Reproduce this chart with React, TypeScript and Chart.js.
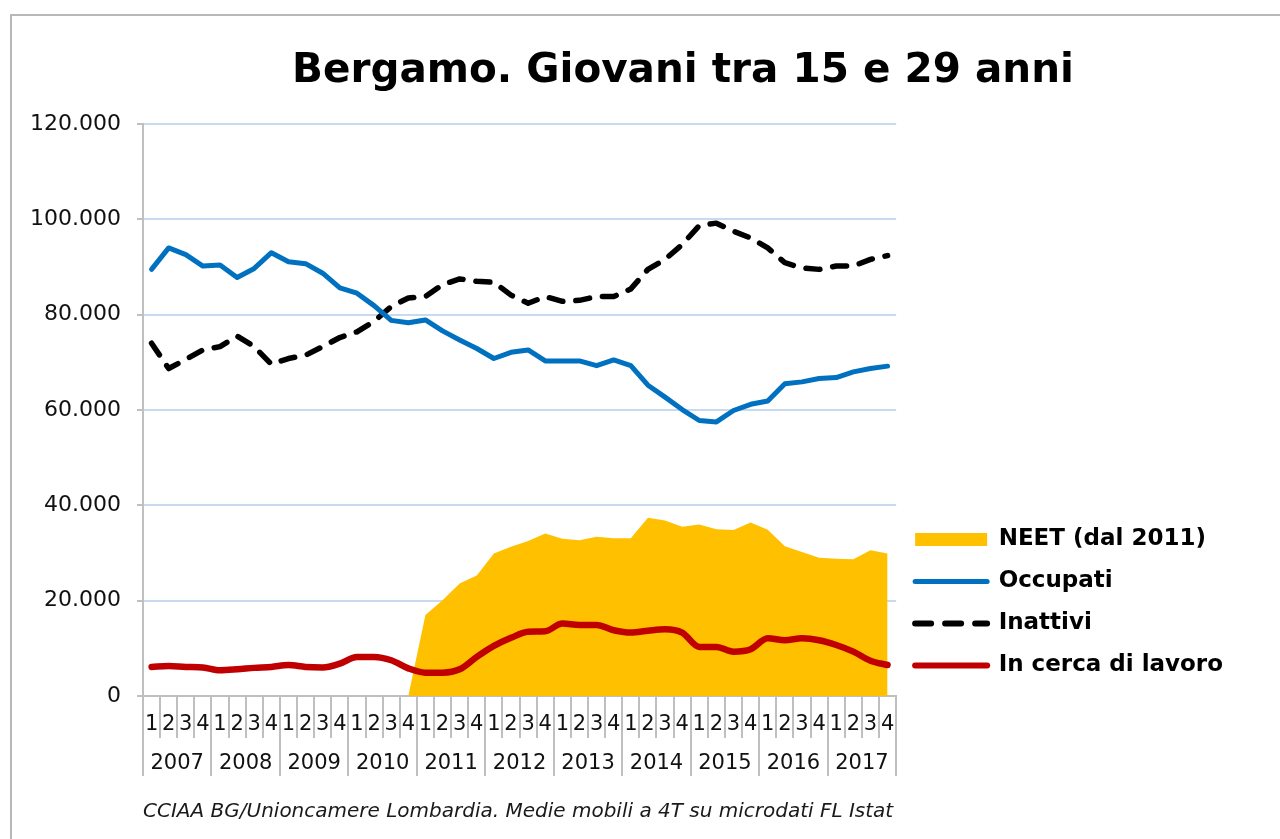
import React, { useEffect, useRef } from 'react';
import { Chart, registerables } from 'chart.js';

Chart.register(...registerables);

const years = ['2007', '2008', '2009', '2010', '2011', '2012', '2013', '2014', '2015', '2016', '2017'];
const quarterLabels = ['1', '2', '3', '4'];

const occupati = [
  89500, 94000, 92600, 90200, 90400, 87800, 89700, 93000, 91100, 90700,
  88700, 85600, 84500, 81900, 78800, 78300, 78900, 76600, 74700, 72900,
  70800, 72100, 72600, 70300, 70300, 70300, 69300, 70500, 69300, 65200,
  62700, 60100, 57800, 57500, 59900, 61200, 61900, 65500, 65900, 66600,
  66800, 68000, 68700, 69200,
];

const inattivi = [
  74000, 68700, 70600, 72600, 73300, 75500, 73300, 69600, 70800, 71500,
  73300, 75200, 76400, 78600, 81700, 83500, 83800, 86300, 87500, 87000,
  86800, 84100, 82400, 83800, 82800, 83000, 83800, 83800, 85400, 89500,
  91600, 94700, 98700, 99200, 97500, 96100, 94000, 90900, 89800, 89500,
  90200, 90200, 91600, 92400,
];

const inCerca = [
  6100, 6300, 6100, 6000, 5400, 5600, 5900, 6100, 6500, 6100,
  6000, 6800, 8200, 8200, 7500, 5800, 4900, 4900, 5600, 8200,
  10500, 12200, 13500, 13600, 15200, 14900, 14900, 13800, 13300, 13700,
  14000, 13300, 10300, 10300, 9300, 9800, 12100, 11700, 12100, 11700,
  10700, 9300, 7400, 6500,
];

const neet = [
  null, null, null, null, null, null, null, null, null, null,
  null, null, null, null, null, 0, 17000, 20100, 23600, 25300,
  29900, 31300, 32500, 34100, 33000, 32700, 33400, 33100, 33100, 37400,
  36800, 35500, 36000, 35000, 34800, 36400, 34900, 31400, 30200, 29000,
  28800, 28700, 30600, 29900,
];

const yTicks = [0, 20000, 40000, 60000, 80000, 100000, 120000];

const TITLE = 'Bergamo. Giovani tra 15 e 29 anni';
const SOURCE = 'CCIAA BG/Unioncamere Lombardia. Medie mobili a 4T su microdati FL Istat';
const NAME_NEET = 'NEET (dal 2011)';
const NAME_OCC = 'Occupati';
const NAME_INA = 'Inattivi';
const NAME_CER = 'In cerca di lavoro';

const C_NEET = '#ffc000';
const C_OCC = '#0070c0';
const C_INA = '#000000';
const C_CER = '#c00000';
const FONT = "'DejaVu Sans', Verdana, sans-serif";
const TITLE_CENTER_X = 683;

const categories = years.flatMap((y) => quarterLabels.map((q) => `${q}`));

function fmt(v: number): string {
  return String(Math.round(v)).replace(/\B(?=(\d{3})+(?!\d))/g, '.');
}

const titleCenterPlugin = {
  id: 'titleCenter',
  afterLayout(chart: any) {
    const t = chart.titleBlock;
    if (!t) return;
    const half = 450;
    t.left = TITLE_CENTER_X - half;
    t.right = TITLE_CENTER_X + half;
    t.width = half * 2;
  },
};

export default function App() {
  const ref = useRef<HTMLCanvasElement | null>(null);

  useEffect(() => {
    if (!ref.current) return;
    const chart = new Chart(ref.current, {
      type: 'line',
      plugins: [titleCenterPlugin],
      data: {
        labels: categories,
        datasets: [
          {
            label: NAME_NEET,
            data: neet,
            backgroundColor: C_NEET,
            borderColor: C_NEET,
            borderWidth: 0,
            fill: 'origin',
            pointRadius: 0,
            tension: 0,
            order: 10,
          },
          {
            label: NAME_OCC,
            data: occupati,
            borderColor: C_OCC,
            backgroundColor: C_OCC,
            borderWidth: 5,
            borderCapStyle: 'round',
            borderJoinStyle: 'round',
            fill: false,
            pointRadius: 0,
            tension: 0,
            order: 1,
          },
          {
            label: NAME_INA,
            data: inattivi,
            borderColor: C_INA,
            backgroundColor: C_INA,
            borderWidth: 5.5,
            borderDash: [14, 13],
            borderCapStyle: 'round',
            borderJoinStyle: 'round',
            fill: false,
            pointRadius: 0,
            tension: 0,
            order: 2,
          },
          {
            label: NAME_CER,
            data: inCerca,
            borderColor: C_CER,
            backgroundColor: C_CER,
            borderWidth: 6.5,
            borderCapStyle: 'round',
            borderJoinStyle: 'round',
            fill: false,
            pointRadius: 0,
            cubicInterpolationMode: 'monotone',
            order: 3,
          },
        ],
      },
      options: {
        responsive: false,
        animation: false,
        layout: { padding: { left: -200, right: 47, top: 14, bottom: 0 } },
        scales: {
          x: {
            type: 'category',
            position: 'bottom',
            weight: 0,
            offset: true,
            grid: {
              display: true,
              offset: true,
              drawOnChartArea: false,
              drawTicks: true,
              tickLength: 42,
              color: '#bfbfbf',
              lineWidth: 2,
            },
            border: { display: true, color: '#bfbfbf', width: 2 },
            ticks: {
              autoSkip: false,
              maxRotation: 0,
              minRotation: 0,
              padding: -25.6,
              color: '#111',
              font: { family: FONT, size: 21 },
            },
            afterFit: (s: any) => {
              s.height = 42;
            },
          },
          x2: {
            type: 'category',
            position: 'bottom',
            weight: 1,
            labels: years,
            offset: true,
            grid: {
              display: true,
              offset: true,
              drawOnChartArea: false,
              drawTicks: true,
              tickLength: 38,
              color: '#bfbfbf',
              lineWidth: 2,
            },
            border: { display: false },
            ticks: {
              autoSkip: false,
              maxRotation: 0,
              minRotation: 0,
              padding: -24.6,
              color: '#111',
              font: { family: FONT, size: 21 },
            },
            afterFit: (s: any) => {
              s.height = 54;
            },
          },
          y: {
            min: 0,
            max: 120000,
            afterBuildTicks: (s: any) => {
              s.ticks = yTicks.map((v) => ({ value: v }));
            },
            ticks: {
              callback: (v: any) => fmt(Number(v)),
              padding: 16,
              color: '#111',
              font: { family: FONT, size: 22 },
            },
            grid: {
              color: '#c9daf0',
              lineWidth: 2,
              tickLength: 6,
              tickColor: '#bfbfbf',
              drawTicks: true,
            },
            border: { display: true, color: '#bfbfbf', width: 2 },
            afterFit: (s: any) => {
              s.width = 343;
            },
          },
        },
        plugins: {
          tooltip: { enabled: false },
          title: {
            display: true,
            text: TITLE,
            color: '#000',
            font: { family: FONT, size: 40.5, weight: 'bold' },
            padding: { top: 33, bottom: 28.4 },
          },
          subtitle: {
            display: true,
            fullSize: false,
            text: SOURCE,
            position: 'bottom',
            align: 'start',
            color: '#1a1a1a',
            font: { family: FONT, size: 20, style: 'italic' },
            padding: { top: 8, bottom: 15 },
          },
          legend: {
            display: true,
            position: 'right',
            align: 'end',
            fullSize: false,
            labels: {
              usePointStyle: true,
              pointStyleWidth: 72,
              boxHeight: 23,
              padding: 19,
              color: '#000',
              font: { family: FONT, size: 23, weight: 'bold' },
              generateLabels: () => [
                {
                  text: NAME_NEET,
                  fillStyle: C_NEET,
                  strokeStyle: C_NEET,
                  lineWidth: 13,
                  lineCap: 'butt',
                  lineDash: [],
                  pointStyle: 'line',
                  fontColor: '#000',
                  hidden: false,
                  datasetIndex: 0,
                },
                {
                  text: NAME_OCC,
                  fillStyle: C_OCC,
                  strokeStyle: C_OCC,
                  lineWidth: 5,
                  lineCap: 'round',
                  lineDash: [],
                  pointStyle: 'line',
                  fontColor: '#000',
                  hidden: false,
                  datasetIndex: 1,
                },
                {
                  text: NAME_INA,
                  fillStyle: C_INA,
                  strokeStyle: C_INA,
                  lineWidth: 6,
                  lineCap: 'round',
                  lineDash: [16, 14],
                  pointStyle: 'line',
                  fontColor: '#000',
                  hidden: false,
                  datasetIndex: 2,
                },
                {
                  text: NAME_CER,
                  fillStyle: C_CER,
                  strokeStyle: C_CER,
                  lineWidth: 6,
                  lineCap: 'round',
                  lineDash: [],
                  pointStyle: 'line',
                  fontColor: '#000',
                  hidden: false,
                  datasetIndex: 3,
                },
              ],
            },
          },
        },
      } as any,
    });
    return () => chart.destroy();
  }, []);

  return (
    <div
      style={{
        position: 'fixed',
        left: 0,
        top: 0,
        width: 1280,
        height: 839,
        overflow: 'hidden',
        background: '#ffffff',
      }}
    >
      <div
        style={{
          position: 'absolute',
          left: 10,
          top: 14,
          width: 1320,
          height: 900,
          border: '2px solid #b8b8b8',
          boxSizing: 'border-box',
        }}
      />
      <canvas
        ref={ref}
        width={1280}
        height={839}
        style={{ position: 'absolute', left: 0, top: 0, width: 1280, height: 839 }}
      />
    </div>
  );
}
